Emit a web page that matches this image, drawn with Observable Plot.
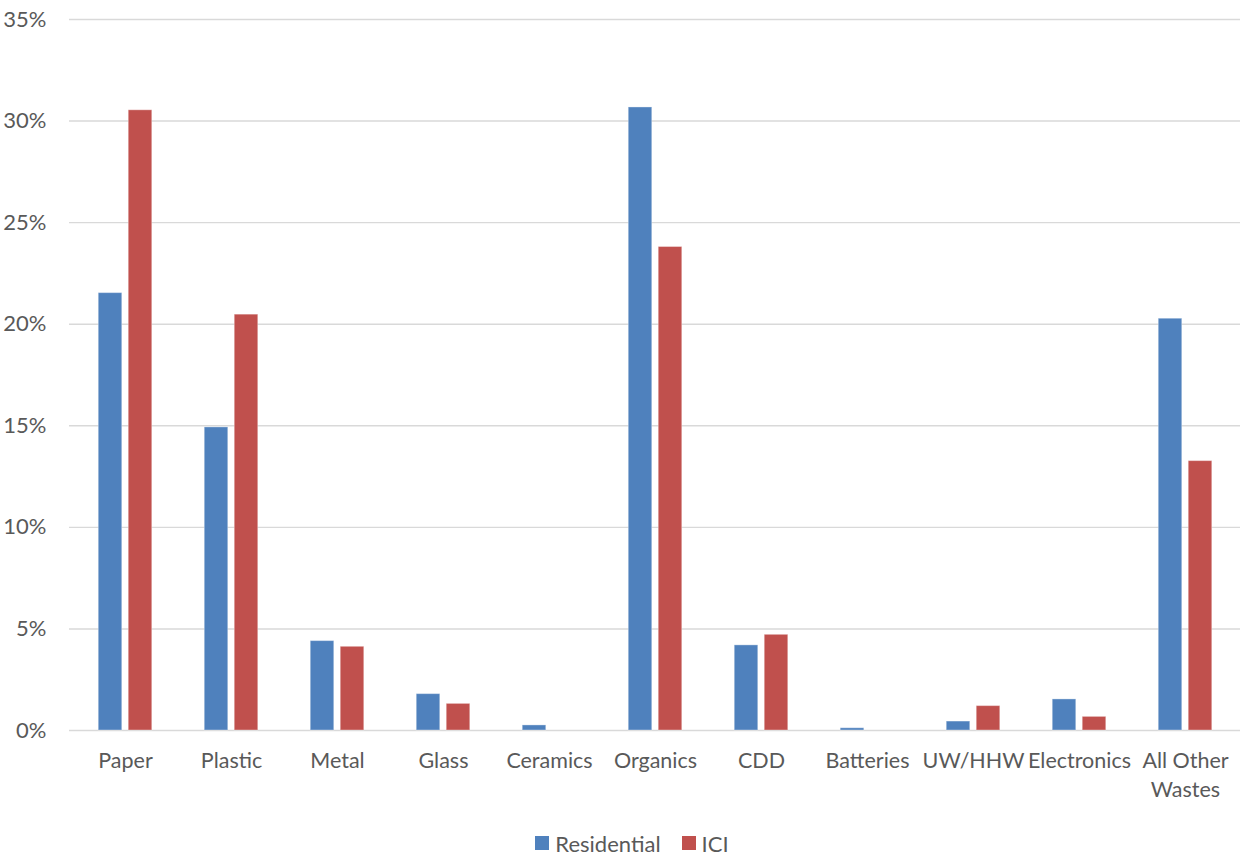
<!DOCTYPE html>
<html>
<head>
<meta charset="utf-8">
<script src="https://cdn.jsdelivr.net/npm/d3@7"></script>
<script src="https://cdn.jsdelivr.net/npm/@observablehq/plot@0.6"></script>
<style>
  html, body { margin: 0; padding: 0; background: #fff; }
  body { font-family: Lato, "Open Sans", sans-serif; color: #595959; }
  #chart svg { display: block; }
  .legend { display: flex; justify-content: center; align-items: center; gap: 21px;
            height: 40px; font-size: 22px; color: #595959; margin-left: 20px; padding-top: 8px; }
  .legend span.item { display: flex; align-items: center; gap: 6px; }
  .legend i { display: inline-block; width: 14px; height: 14px; }
</style>
</head>
<body>
<div id="chart"></div>
<div class="legend">
  <span class="item"><i style="background:#4F81BD"></i>Residential</span>
  <span class="item"><i style="background:#C0504D"></i>ICI</span>
</div>
<script>
// Waste composition by material category, share of total (%)
const categories = ["Paper", "Plastic", "Metal", "Glass", "Ceramics", "Organics", "CDD",
                    "Batteries", "UW/HHW", "Electronics", "All Other Wastes"];
const residential = [21.53, 14.92, 4.40, 1.79, 0.25, 30.67, 4.19, 0.11, 0.44, 1.53, 20.27];
const ici         = [30.53, 20.47, 4.12, 1.31, 0.00, 23.80, 4.71, 0.00, 1.20, 0.67, 13.26];
const yTicks = [0, 5, 10, 15, 20, 25, 30, 35];

const resRows = categories.map((c, i) => ({category: c, value: residential[i]}));
const iciRows = categories.map((c, i) => ({category: c, value: ici[i]}));

// Each category band is ~106px wide; the pair of 24px bars sits in its middle
// with a 6px gap, so each series is inset from opposite sides of the band.
const W = 1244, ML = 69, MR = 4;
const step = (W - ML - MR) / categories.length;
const barW = 24, gap = 6;
const nearInset = step / 2 - gap / 2 - barW;   // side away from the gap
const farInset = step / 2 + gap / 2;           // side beyond the gap

const chart = Plot.plot({
  width: W,
  height: 815,
  marginTop: 19,
  marginBottom: 85,
  marginLeft: ML,
  marginRight: MR,
  style: {fontFamily: "Lato, 'Open Sans', sans-serif", fontSize: "22px", color: "#595959", background: "#fff"},
  x: {domain: categories, padding: 0, label: null},
  y: {domain: [0, 35], label: null},
  marks: [
    Plot.ruleY(yTicks, {stroke: "#d9d9d9", strokeWidth: 1.4}),
    Plot.axisY(yTicks, {tickSize: 0, tickPadding: 23, tickFormat: d => d + "%", label: null,
                        fill: "#595959", fontSize: 22}),
    Plot.axisX({tickSize: 0, tickPadding: 16, label: null, fill: "#595959",
                fontSize: 21.5, lineHeight: 1.38,
                tickFormat: d => d === "All Other Wastes" ? "All Other\nWastes" : d}),
    Plot.barY(resRows, {x: "category", y: "value", fill: "#4F81BD",
                        insetLeft: nearInset, insetRight: farInset,
                        stroke: "#ffffff", strokeOpacity: 0.35, strokeWidth: 1}),
    Plot.barY(iciRows, {x: "category", y: "value", fill: "#C0504D",
                        insetLeft: farInset, insetRight: nearInset,
                        stroke: "#ffffff", strokeOpacity: 0.35, strokeWidth: 1})
  ]
});

document.getElementById("chart").append(chart);
</script>
</body>
</html>
